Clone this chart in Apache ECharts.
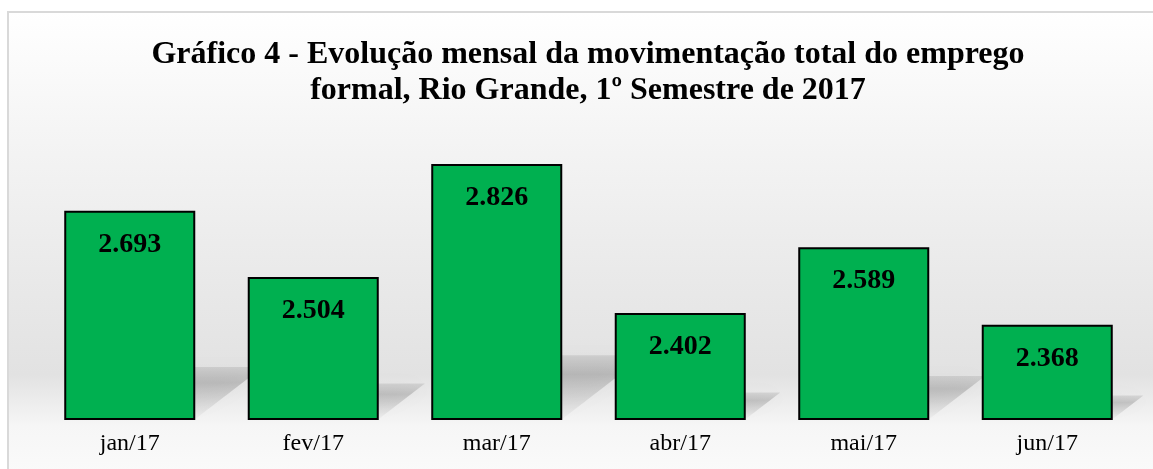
<!DOCTYPE html>
<html>
<head>
<meta charset="utf-8">
<script src="https://cdn.jsdelivr.net/npm/echarts@6/dist/echarts.min.js"></script>
<style>
  html, body { margin: 0; padding: 0; background: #fff; }
  #chart { width: 1153px; height: 469px; }
</style>
</head>
<body>
<div id="chart"></div>
<script>
// dados do gráfico
var meses = ['jan/17', 'fev/17', 'mar/17', 'abr/17', 'mai/17', 'jun/17'];
var movimentacao = [2693, 2504, 2826, 2402, 2589, 2368];
var tituloLinhas = ['Gráfico 4 - Evolução mensal da movimentação total do emprego', 'formal, Rio Grande, 1º Semestre de 2017'];

var eixoMin = 2100;
var eixoMax = 2900;
var gap = 0.286;

var myChart = echarts.init(document.getElementById('chart'));

// sombra em perspectiva atrás de cada barra
function sombra(params, api) {
  var i = api.value(0);
  var topo = api.coord([i, api.value(1)]);
  var base = api.coord([i, eixoMin]);
  var banda = api.size([1, 0])[0];
  var w = banda * (1 - gap);
  var alt = base[1] - topo[1];
  var h = alt * 0.25;
  var dx = h * 1.3;
  var xl = base[0] - w / 2, xr = base[0] + w / 2, y0 = base[1];
  return {
    type: 'polygon',
    shape: { points: [[xl, y0], [xr, y0], [xr + dx, y0 - h], [xl + dx, y0 - h]] },
    style: {
      fill: {
        type: 'linear', x: 0, y: 0, x2: 0, y2: 1,
        colorStops: [
          { offset: 0, color: 'rgba(0,0,0,0.09)' },
          { offset: 0.3, color: 'rgba(0,0,0,0.17)' },
          { offset: 1, color: 'rgba(0,0,0,0.02)' }
        ]
      },
      shadowBlur: 18,
      shadowColor: 'rgba(0,0,0,0.2)'
    }
  };
}

option = {
  animation: false,
  title: {
    text: tituloLinhas.join('\n'),
    left: 583,
    textAlign: 'center',
    top: 32,
    textStyle: {
      fontFamily: 'Liberation Serif',
      fontWeight: 'bold',
      fontSize: 32,
      lineHeight: 36,
      color: '#000'
    }
  },
  graphic: [
    {
      type: 'rect',
      z: -10,
      silent: true,
      shape: { x: 8, y: 12, width: 1160, height: 470 },
      style: {
        stroke: '#d9d9d9',
        lineWidth: 2,
        fill: {
          type: 'linear', x: 0, y: 0, x2: 0, y2: 1,
          colorStops: [
            { offset: 0, color: '#ffffff' },
            { offset: 0.25, color: '#f5f5f5' },
            { offset: 0.6, color: '#e8e8e8' },
            { offset: 0.77, color: '#e2e2e2' },
            { offset: 0.88, color: '#f6f6f6' },
            { offset: 1, color: '#fbfbfb' }
          ]
        }
      }
    }
  ],
  grid: { left: 38, right: 14, top: 138, bottom: 50 },
  xAxis: {
    type: 'category',
    data: meses,
    axisLine: { show: false },
    axisTick: { show: false },
    axisLabel: {
      fontFamily: 'Liberation Serif',
      fontSize: 24,
      color: '#000',
      margin: 13
    }
  },
  yAxis: {
    type: 'value',
    min: eixoMin,
    max: eixoMax,
    show: false,
    splitLine: { show: false }
  },
  series: [
    {
      type: 'custom',
      renderItem: sombra,
      data: movimentacao.map(function (v, i) { return [i, v]; }),
      z: 1,
      silent: true
    },
    {
      type: 'bar',
      data: movimentacao,
      barCategoryGap: (gap * 100) + '%',
      z: 2,
      itemStyle: {
        color: '#00b050',
        borderColor: '#000',
        borderWidth: 2
      },
      label: {
        show: true,
        position: 'insideTop',
        distance: 20,
        fontFamily: 'Liberation Serif',
        fontWeight: 'bold',
        fontSize: 28,
        color: '#000',
        formatter: function (p) {
          return p.value.toLocaleString('pt-BR');
        }
      }
    }
  ]
};

myChart.setOption(option);
</script>
</body>
</html>
